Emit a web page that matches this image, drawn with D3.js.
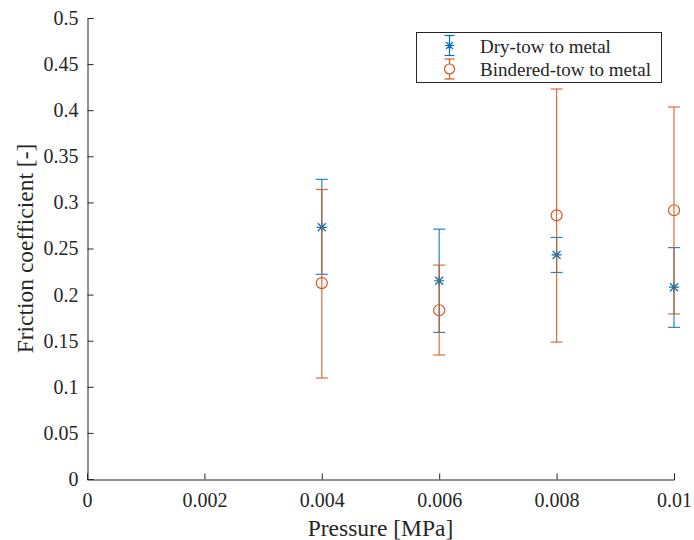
<!DOCTYPE html>
<html>
<head>
<meta charset="utf-8">
<script src="https://cdn.jsdelivr.net/npm/d3@7"></script>
<style>
  body { margin: 0; background: #fff; }
</style>
</head>
<body>
<div id="chart"></div>
<script>
var pressure = [0.004, 0.006, 0.008, 0.01];
var dryMean = [0.273, 0.215, 0.243, 0.208];
var dryLow = [0.222, 0.159, 0.224, 0.1645];
var dryHigh = [0.325, 0.271, 0.262, 0.251];
var binMean = [0.2125, 0.183, 0.286, 0.2915];
var binLow = [0.1095, 0.1345, 0.1485, 0.179];
var binHigh = [0.314, 0.232, 0.423, 0.4035];
var xTicks = [0, 0.002, 0.004, 0.006, 0.008, 0.01];
var yTicks = [0, 0.05, 0.1, 0.15, 0.2, 0.25, 0.3, 0.35, 0.4, 0.45, 0.5];

var width = 694, height = 540;
var margin = { top: 18, left: 87, right: 20, bottom: 61 };
var serif = "'Liberation Serif', 'Times New Roman', serif";

var svg = d3.select("#chart").append("svg")
  .attr("width", width)
  .attr("height", height);

var x = d3.scaleLinear().domain([0, 0.01]).range([margin.left, width - margin.right]);
var y = d3.scaleLinear().domain([0, 0.5]).range([height - margin.bottom, margin.top]);

var axisColor = "#262626";

// x axis (ticks inward)
var xAxis = svg.append("g")
  .attr("transform", "translate(0," + (height - margin.bottom + 0.5) + ")")
  .call(d3.axisBottom(x).tickValues(xTicks).tickSize(-6).tickPadding(13)
    .tickFormat(d => d === 0 ? "0" : String(+d.toFixed(3))));
xAxis.attr("font-family", serif).attr("font-size", 20);
xAxis.select(".domain").attr("stroke", axisColor);
xAxis.selectAll(".tick line").attr("stroke", axisColor);
xAxis.selectAll("text").attr("fill", axisColor);

// y axis (ticks inward)
var yAxis = svg.append("g")
  .attr("transform", "translate(" + (margin.left + 0.5) + ",0)")
  .call(d3.axisLeft(y).tickValues(yTicks).tickSize(-6).tickPadding(9)
    .tickFormat(d => String(+d.toFixed(2))));
yAxis.attr("font-family", serif).attr("font-size", 20);
yAxis.select(".domain").attr("stroke", axisColor);
yAxis.selectAll(".tick line").attr("stroke", axisColor);
yAxis.selectAll("text").attr("fill", axisColor);

svg.append("text")
  .attr("x", (margin.left + width - margin.right) / 2)
  .attr("y", 536)
  .attr("text-anchor", "middle")
  .attr("font-family", serif)
  .attr("font-size", 23.5)
  .attr("fill", axisColor)
  .text("Pressure [MPa]");

svg.append("text")
  .attr("transform", "translate(33," + ((margin.top + height - margin.bottom) / 2) + ") rotate(-90)")
  .attr("text-anchor", "middle")
  .attr("font-family", serif)
  .attr("font-size", 23.5)
  .attr("fill", axisColor)
  .text("Friction coefficient [-]");

var blue = "#0072BD", orange = "#D95319";
var cap = 6;

function errorbars(mean, low, high, color, marker) {
  var g = svg.append("g");
  var pts = pressure.map((p, i) => ({ p: p, m: mean[i], lo: low[i], hi: high[i] }));
  var bar = g.selectAll("g.bar").data(pts).enter().append("g").attr("class", "bar")
    .attr("stroke", color).attr("stroke-width", 1.2).attr("stroke-opacity", 0.85).attr("fill", "none");
  bar.append("line")
    .attr("x1", d => x(d.p)).attr("x2", d => x(d.p))
    .attr("y1", d => y(d.lo)).attr("y2", d => y(d.hi));
  bar.append("line")
    .attr("x1", d => x(d.p) - cap).attr("x2", d => x(d.p) + cap)
    .attr("y1", d => y(d.lo)).attr("y2", d => y(d.lo));
  bar.append("line")
    .attr("x1", d => x(d.p) - cap).attr("x2", d => x(d.p) + cap)
    .attr("y1", d => y(d.hi)).attr("y2", d => y(d.hi));
  if (marker === "circle") {
    bar.append("circle")
      .attr("cx", d => x(d.p)).attr("cy", d => y(d.m)).attr("r", 5.5)
      .attr("stroke-opacity", 1);
  } else {
    bar.append("path")
      .attr("transform", d => "translate(" + x(d.p) + "," + y(d.m) + ")")
      .attr("d", "M-5,0H5M0,-5V5M-4,-4L4,4M-4,4L4,-4")
      .attr("stroke-opacity", 1);
  }
}

errorbars(dryMean, dryLow, dryHigh, blue, "star");
errorbars(binMean, binLow, binHigh, orange, "circle");

// legend
var lg = svg.append("g").attr("transform", "translate(416.5,32.5)");
lg.append("rect").attr("width", 245).attr("height", 50)
  .attr("fill", "#fff").attr("stroke", axisColor).attr("stroke-width", 1);
var items = [
  { label: "Dry-tow to metal", color: blue, marker: "star" },
  { label: "Bindered-tow to metal", color: orange, marker: "circle" }
];
items.forEach((it, i) => {
  var cy = 13 + i * 23.5;
  var mg = lg.append("g").attr("stroke", it.color).attr("stroke-width", 1.2).attr("fill", "none")
    .attr("transform", "translate(33," + cy + ")");
  mg.append("line").attr("x1", 0).attr("x2", 0).attr("y1", -10).attr("y2", 10);
  mg.append("line").attr("x1", -5).attr("x2", 5).attr("y1", -10).attr("y2", -10);
  mg.append("line").attr("x1", -5).attr("x2", 5).attr("y1", 10).attr("y2", 10);
  if (it.marker === "circle") {
    mg.append("circle").attr("r", 5).attr("fill", "#fff");
  } else {
    mg.append("path").attr("d", "M-4.5,0H4.5M0,-4.5V4.5M-3.5,-3.5L3.5,3.5M-3.5,3.5L3.5,-3.5");
  }
  lg.append("text").attr("x", 63.5).attr("y", cy + 7)
    .attr("font-family", serif).attr("font-size", 19).attr("fill", axisColor)
    .text(it.label);
});
</script>
</body>
</html>
